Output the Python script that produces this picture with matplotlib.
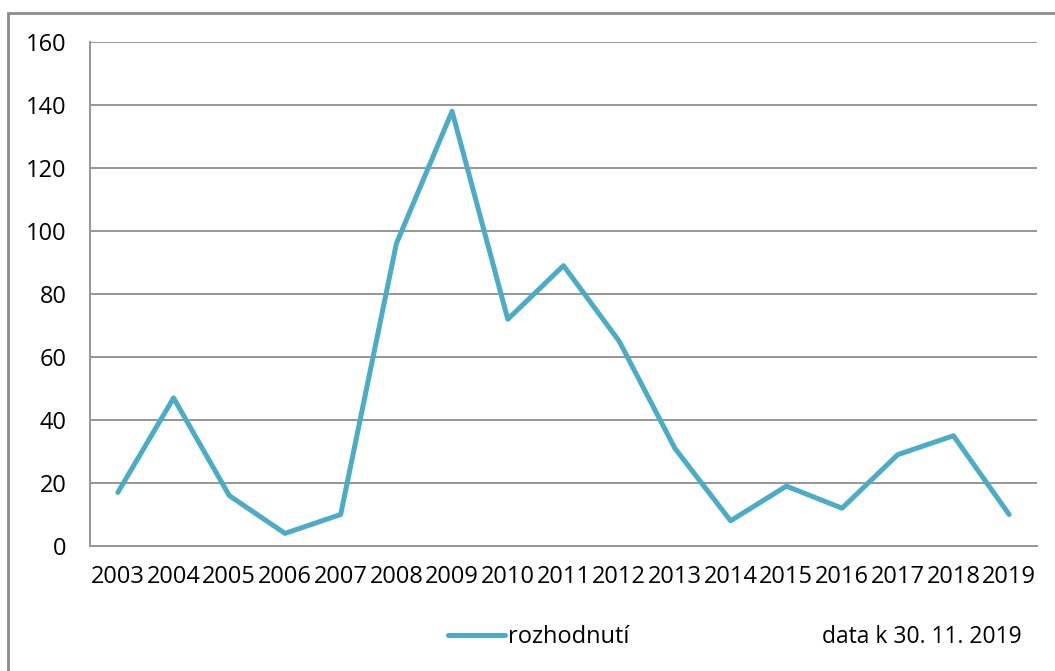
import numpy as np
import matplotlib
matplotlib.use("Agg")
from matplotlib import pyplot as plt
from matplotlib.patches import Rectangle

years = ["2003", "2004", "2005", "2006", "2007", "2008", "2009", "2010", "2011",
         "2012", "2013", "2014", "2015", "2016", "2017", "2018", "2019"]
rozhodnuti = [17, 47, 16, 4, 10, 96, 138, 72, 89, 65, 31, 8, 19, 12, 29, 35, 10]
y_ticks = [0, 20, 40, 60, 80, 100, 120, 140, 160]

line_color = "#4BACC6"
grid_color = "#969696"

plt.rcParams['font.family'] = ['Open Sans', 'DejaVu Sans']

W, H = 1055, 671
fig = plt.figure(figsize=(W / 100, H / 100), dpi=100)

# outer chart border (runs off the right and bottom edges)
fig.patches.append(Rectangle((8 / W, -0.05), 1.1, 1 - 13 / H + 0.05,
                             transform=fig.transFigure, fill=False,
                             edgecolor="#8c8c8c", linewidth=2))

ax = fig.add_axes([90 / W, 1 - 546 / H, (1037 - 90) / W, (546 - 42) / H])

x = np.arange(len(years))
ax.plot(x, rozhodnuti, color=line_color, linewidth=3.6, solid_joinstyle="round",
        solid_capstyle="round", label="rozhodnutí")

ax.set_xlim(-0.5, len(years) - 0.5)
ax.set_ylim(0, 160)
ax.set_yticks(y_ticks)
ax.set_xticks(x)
ax.set_xticklabels(years)

for t in y_ticks[1:]:
    ax.axhline(t, color=grid_color, linewidth=1.4, zorder=0)

for s in ["top", "right"]:
    ax.spines[s].set_visible(False)
for s in ["left", "bottom"]:
    ax.spines[s].set_color(grid_color)
    ax.spines[s].set_linewidth(1.4)

ax.tick_params(axis="both", length=0, labelsize=17, colors="black")
ax.tick_params(axis="y", pad=17)
ax.tick_params(axis="x", pad=14)

# legend
fig.legend(loc="center left", bbox_to_anchor=(448 / W, 1 - 637 / H), frameon=False,
           fontsize=17, handlelength=2.4, handletextpad=0.15, borderaxespad=0,
           borderpad=0)

fig.text(1022 / W, 1 - 637 / H, "data k 30. 11. 2019", fontsize=16.5,
         ha="right", va="center")

fig.savefig("out.png", dpi=100)
